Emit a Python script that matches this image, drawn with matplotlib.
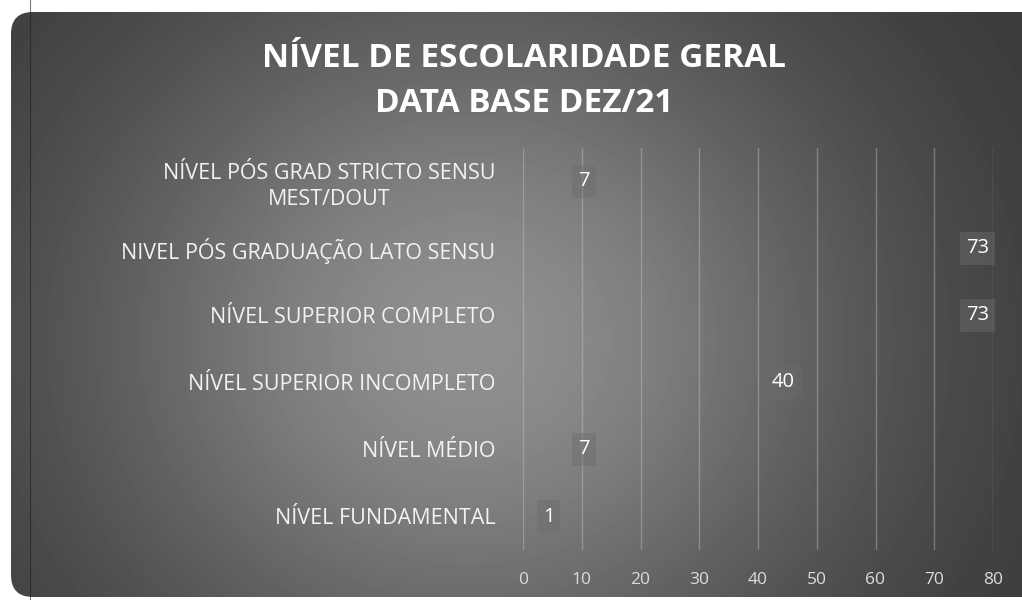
import numpy as np
import matplotlib
matplotlib.use('Agg')
import matplotlib.pyplot as plt
from matplotlib.patches import FancyBboxPatch

categorias = ['NÍVEL PÓS GRAD STRICTO SENSU\nMEST/DOUT',
              'NIVEL PÓS GRADUAÇÃO LATO SENSU',
              'NÍVEL SUPERIOR COMPLETO',
              'NÍVEL SUPERIOR INCOMPLETO',
              'NÍVEL MÉDIO',
              'NÍVEL FUNDAMENTAL']
quantidade = [7, 73, 73, 40, 7, 1]
escala = [0, 10, 20, 30, 40, 50, 60, 70, 80]
titulo = 'NÍVEL DE ESCOLARIDADE GERAL\nDATA BASE DEZ/21'

plt.rcParams['font.family'] = ['Open Sans', 'DejaVu Sans']

W, H = 1022, 600
fig = plt.figure(figsize=(W / 100, H / 100), dpi=100, facecolor='white')

# fundo do slide (cinza com brilho no centro)
fundo = fig.add_axes([0, 0, 1, 1])
yy, xx = np.mgrid[0:H, 0:W]
d = np.hypot(xx - 470, (yy - 340) * 1.1)
cinza = 0.21 + 0.35 * np.exp(-(d / 400) ** 2)
img = fundo.imshow(cinza, cmap='gray', vmin=0, vmax=1, extent=(0, W, H, 0),
                   interpolation='bilinear', aspect='auto')
fundo.set_xlim(0, W)
fundo.set_ylim(H, 0)
fundo.axis('off')
painel = FancyBboxPatch((11, 12), W + 40, H - 15,
                        boxstyle='round,pad=0,rounding_size=22',
                        transform=fundo.transData, facecolor='none', edgecolor='none')
fundo.add_patch(painel)
img.set_clip_path(painel)
fundo.plot([30, 30], [0, H], color='#1e1e1e', lw=0.8, alpha=0.6)

fig.text(524 / W, 1 - 81 / H, titulo, ha='center', va='center', fontsize=24,
         fontweight='bold', color='white', linespacing=1.5)

# grafico
ax = fig.add_axes([523 / W, 50 / H, 470 / W, 402 / H])
ax.set_facecolor('none')
y = np.arange(len(categorias))
barras = ax.barh(y, quantidade, height=0.6, color='white', alpha=0.0)
ax.set_xlim(0, 80)
ax.set_ylim(len(categorias) - 0.5, -0.5)
ax.set_xticks(escala)
ax.set_yticks(y, categorias)
ax.grid(axis='x', color='#c8c8c8', lw=1, alpha=0.4)
ax.set_axisbelow(True)
for s in ax.spines.values():
    s.set_visible(False)
ax.tick_params(axis='x', length=0, pad=16, labelsize=12.5, labelcolor='#dcdcdc')
ax.tick_params(axis='y', length=0, pad=20, labelsize=15.5, labelcolor='#f2f2f2')
for t in ax.get_yticklabels():
    t.set_multialignment('center')
    t.set_linespacing(1.3)

rot = ax.bar_label(barras, padding=10, color='white', fontsize=14.5)
for r in rot:
    r.set_bbox(dict(boxstyle='square,pad=0.3', facecolor='#6c6c6c',
                    edgecolor='none', alpha=0.45))

fig.savefig('out.png', dpi=100, facecolor='white')
